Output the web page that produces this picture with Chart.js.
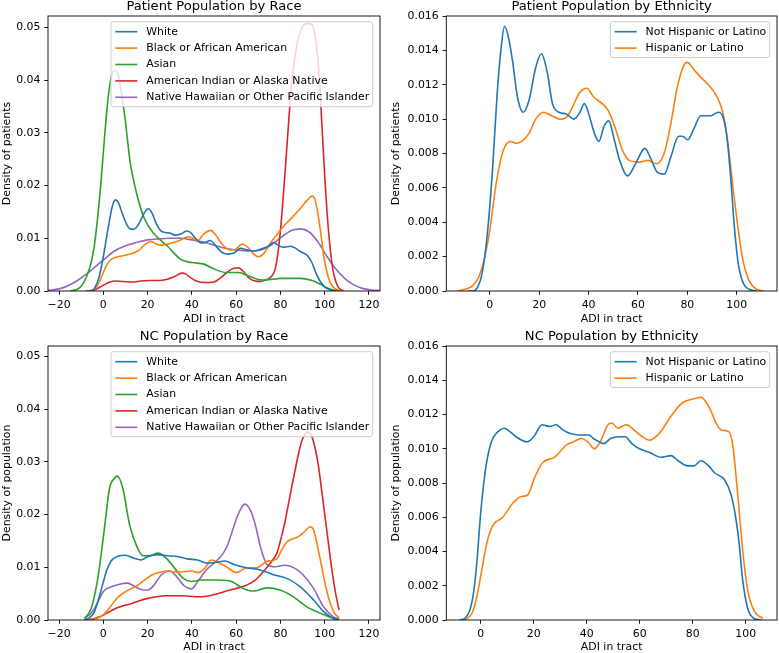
<!DOCTYPE html>
<html>
<head>
<meta charset="utf-8">
<title>ADI density by race and ethnicity</title>
<script src="https://cdn.jsdelivr.net/npm/chart.js@4.4.0/dist/chart.umd.min.js"></script>
<style>
  html, body { margin: 0; padding: 0; background: #ffffff; }
  #fig { position: relative; width: 779px; height: 653px; overflow: hidden; }
  #fig canvas { position: absolute; }
</style>
</head>
<body>
<div id="fig">
  <canvas id="patRace" width="389" height="330" style="left:0;top:0"></canvas>
  <canvas id="patEth" width="390" height="330" style="left:389px;top:0"></canvas>
  <canvas id="ncRace" width="389" height="323" style="left:0;top:330px"></canvas>
  <canvas id="ncEth" width="390" height="323" style="left:389px;top:330px"></canvas>
</div>
<script>
// ==========================================
// DATA (ADI in tract, density)
// ==========================================

const raceLabels = ['White', 'Black or African American', 'Asian',
    'American Indian or Alaska Native', 'Native Hawaiian or Other Pacific Islander'];
const ethLabels = ['Not Hispanic or Latino', 'Hispanic or Latino'];

const raceXTicks = [-20, 0, 20, 40, 60, 80, 100, 120];
const ethXTicks = [0, 20, 40, 60, 80, 100];
const raceYTicks = [0, 0.01, 0.02, 0.03, 0.04, 0.05];
const ethYTicks = [0, 0.002, 0.004, 0.006, 0.008, 0.010, 0.012, 0.014, 0.016];

// Patient population by race
const patWhite = [[-8,0],[-5,0.0001],[-4,0.0005],[-2,0.0025],[0,0.0065],[2,0.0115],[4,0.016],[5.5,0.0173],[7,0.0166],[8.5,0.0148],[10.5,0.0127],[12,0.0118],[13.5,0.0117],[15,0.0121],[16.5,0.0131],[18.5,0.0148],[20.3,0.0156],[22,0.0148],[24,0.0127],[26,0.0114],[28,0.0111],[30,0.011],[32.5,0.0106],[35,0.0108],[37.6,0.0114],[39.5,0.0111],[41.5,0.0101],[44.4,0.0091],[46.5,0.0093],[48.3,0.0096],[50,0.009],[51.5,0.0082],[54,0.0072],[56.5,0.007],[59,0.0072],[62,0.0081],[65,0.0078],[68,0.0076],[71.5,0.008],[74.5,0.0085],[77,0.0092],[79,0.0087],[81,0.0083],[84.5,0.0085],[87,0.0081],[89,0.0075],[92,0.0068],[94,0.0056],[96,0.0035],[98,0.0018],[100,0.0008],[102,0.0003],[105,0]];
const patBlack = [[-6,0],[-5,0.0001],[-3,0.0008],[-1,0.0025],[1,0.0045],[3,0.0058],[5,0.0063],[9,0.0067],[13,0.0071],[16,0.0077],[18.5,0.0087],[21.5,0.0094],[23.5,0.009],[26,0.0087],[30,0.009],[34.5,0.0096],[38.5,0.0103],[40.5,0.01],[42.5,0.0095],[45.3,0.0108],[48.5,0.0115],[50.5,0.0108],[52.8,0.0094],[55,0.0083],[57.5,0.0078],[60,0.008],[62.7,0.0089],[65,0.0084],[67.5,0.0072],[70,0.0065],[72.5,0.0071],[75,0.0088],[78,0.0105],[80.5,0.0118],[84,0.0134],[88,0.0152],[91,0.0167],[93.2,0.0177],[94.5,0.018],[95.7,0.0172],[97,0.0145],[98.5,0.0102],[99.5,0.0068],[101,0.0036],[102.5,0.0016],[104.5,0.0005],[107,0.0001],[109,0]];
const patAsian = [[-15,0],[-12,0.0003],[-10,0.0009],[-7.5,0.0028],[-5.5,0.0054],[-4,0.0088],[-2.5,0.0142],[-1,0.021],[0.5,0.029],[2,0.036],[3.5,0.0405],[5,0.0418],[6.5,0.0413],[8,0.038],[9.7,0.0332],[12,0.0248],[15,0.0186],[18.5,0.0138],[23,0.0108],[29,0.0085],[35,0.006],[40,0.0054],[45.5,0.0051],[50,0.0042],[55.5,0.0035],[61,0.0035],[66,0.0028],[71.5,0.0021],[76,0.0022],[80,0.0024],[89,0.0024],[95,0.0019],[98,0.0013],[101,0.0006],[104,0.0002],[108,0]];
const patAmInd = [[-6,0],[-3,0.0004],[0,0.0011],[3,0.0017],[5,0.0019],[9,0.0018],[13,0.0017],[17,0.0019],[21,0.002],[25,0.002],[28.5,0.0022],[32,0.0027],[35.5,0.0034],[37,0.0033],[39.5,0.0025],[42,0.0019],[46,0.0016],[50,0.0017],[53,0.0025],[56,0.0036],[59,0.0043],[61,0.0044],[63.5,0.0036],[66,0.0024],[68.5,0.0019],[71,0.0018],[73.5,0.0021],[75.3,0.0025],[77.6,0.0041],[79.1,0.0079],[80.6,0.0142],[82.1,0.0225],[83.6,0.0313],[85.1,0.0396],[87.1,0.0459],[89.2,0.0494],[91.9,0.0508],[94.2,0.0506],[95.7,0.0484],[97.2,0.0427],[98.7,0.032],[100.2,0.0206],[101.8,0.0111],[103.7,0.0041],[105.9,0.0009],[108.6,0]];
const patNhpi = [[-25,0.0001],[-20,0.0004],[-16,0.001],[-12,0.0019],[-8,0.0031],[-4,0.0045],[0,0.0059],[5,0.0076],[10,0.0086],[15,0.0092],[20,0.0097],[25,0.0099],[30,0.01],[35,0.01],[40,0.0097],[45,0.0093],[50,0.0087],[55,0.0081],[60,0.0078],[65,0.0076],[70,0.0077],[75,0.0085],[80,0.0101],[85,0.0115],[89,0.0118],[93,0.0112],[97,0.0093],[101,0.0066],[105,0.0042],[109,0.0024],[113,0.0012],[117,0.0005],[121,0.0002],[125,0.0001]];

// Patient population by ethnicity
const patNotHisp = [[-9,0],[-7,0],[-5,0.0002],[-3,0.0011],[-1,0.0033],[1,0.0068],[3,0.0115],[4.5,0.014],[6,0.0154],[7.5,0.0148],[9.2,0.0134],[11.2,0.0113],[13.5,0.0104],[15.9,0.0111],[18.6,0.013],[20.9,0.0138],[23.3,0.0127],[25.4,0.0109],[28,0.0104],[31,0.0103],[34,0.01],[36.5,0.0104],[38.3,0.0109],[40.3,0.0102],[42.3,0.0092],[44.2,0.0087],[46.3,0.0096],[48.2,0.0099],[50.4,0.0088],[52.6,0.0076],[55.8,0.0067],[59,0.0074],[62.8,0.0083],[65.2,0.0077],[67.9,0.0069],[70.7,0.0068],[73.3,0.0078],[76.5,0.009],[78,0.009],[80.2,0.0088],[82.5,0.0094],[85.5,0.0102],[89.6,0.0102],[92.5,0.0104],[94.5,0.0101],[96,0.009],[97.5,0.0067],[99,0.0038],[100.5,0.0017],[102.5,0.0005],[105,0.0001],[108,0]];
const patHisp = [[-13,0],[-10,0.0001],[-7,0.0003],[-4.5,0.0008],[-2,0.002],[0,0.0035],[2,0.0057],[4.5,0.0077],[6.5,0.0085],[8.5,0.0087],[10.5,0.0086],[13,0.0087],[16,0.0092],[18.6,0.01],[21.8,0.0104],[25,0.0102],[28.5,0.01],[31,0.0101],[33.5,0.0107],[36.2,0.0115],[39.3,0.0118],[42,0.0113],[45.5,0.0109],[48,0.0105],[51,0.0094],[53.7,0.0082],[56.5,0.0076],[60.5,0.0075],[64,0.0076],[67.5,0.0074],[70.6,0.008],[73,0.0095],[76,0.0119],[78.5,0.0131],[80,0.0133],[82.5,0.0129],[85,0.0125],[88.5,0.012],[92,0.0113],[94.5,0.0103],[96.5,0.0085],[98.5,0.006],[100.5,0.0037],[102.5,0.0018],[105,0.0006],[108,0.0001],[111,0]];

// NC population by race
const ncWhite = [[-8.5,0],[-6,0.0005],[-4,0.0016],[-2,0.0042],[0,0.0072],[1.5,0.0094],[3.5,0.0112],[6.5,0.0121],[10,0.0123],[14,0.0117],[17,0.0114],[20,0.012],[24.5,0.0124],[29,0.0122],[34,0.012],[38,0.0116],[42.5,0.0114],[47,0.0108],[50.5,0.0109],[55,0.0112],[58.7,0.0106],[64.7,0.0099],[70.8,0.0095],[76.8,0.0086],[82.9,0.0079],[89,0.0063],[95,0.0038],[99.5,0.0016],[104,0.0003],[106.5,0.0001]];
const ncBlack = [[-8.5,0],[-5.5,0.0001],[-3,0.0003],[-1,0.0007],[1,0.0014],[3,0.0024],[6.5,0.0043],[11,0.0056],[15.5,0.0066],[18.7,0.0076],[21.7,0.0085],[26,0.0091],[29.3,0.0093],[32.3,0.0091],[36.8,0.0092],[39.8,0.0093],[42.8,0.009],[45.8,0.0098],[48.9,0.0114],[50.5,0.0112],[55.7,0.0101],[60.2,0.009],[64.7,0.0099],[69.3,0.0099],[73.8,0.0111],[78.4,0.0116],[80.5,0.0132],[82.9,0.0148],[88,0.0158],[91,0.0168],[93.4,0.0177],[95,0.0171],[97.9,0.0117],[101,0.0054],[104,0.0016],[106.5,0.0004]];
const ncAsian = [[-8.5,0.0003],[-5.5,0.0022],[-2.5,0.0079],[0.5,0.0174],[2.8,0.025],[5,0.0269],[6.3,0.0273],[8.8,0.025],[11.9,0.018],[14.9,0.0142],[17.9,0.0122],[21.7,0.0123],[24.7,0.0127],[28.5,0.0117],[32.3,0.0098],[36.1,0.0079],[39.8,0.0073],[44.3,0.0076],[50,0.0076],[57.2,0.0074],[63.2,0.006],[67.8,0.0055],[73.8,0.0061],[79.8,0.0057],[85.9,0.0044],[91.9,0.0025],[98,0.0013],[104,0.0003],[106.5,0.0001]];
const ncAmInd = [[-8.5,0],[-6.5,0.0001],[-4,0.0003],[-1,0.0007],[2,0.0014],[5,0.0021],[9,0.0027],[12.6,0.0031],[16,0.0036],[20.2,0.0041],[24,0.0044],[27.7,0.0046],[32,0.0046],[35.3,0.0046],[39,0.0045],[42.8,0.0044],[46.5,0.0045],[50,0.0048],[53.5,0.0052],[57.2,0.0057],[61,0.0061],[64.7,0.0066],[68.5,0.0075],[72.3,0.0092],[75.3,0.0107],[78.4,0.0127],[80.3,0.0155],[82.1,0.0187],[84,0.0228],[85.9,0.0269],[87.8,0.0308],[89.6,0.0339],[91.2,0.0353],[92.7,0.0356],[94.2,0.0348],[95.7,0.0326],[97.2,0.0292],[98.7,0.0244],[100.3,0.0192],[101.8,0.0142],[103.3,0.0094],[104.8,0.0054],[106.5,0.0019]];
const ncNhpi = [[-8.5,0.0003],[-6,0.0011],[-4,0.0022],[-2,0.0038],[0,0.0054],[3.6,0.0063],[7.3,0.0068],[11,0.007],[14,0.0064],[17,0.0058],[20.2,0.0057],[23,0.0067],[26,0.0085],[30,0.0093],[33,0.0083],[36.5,0.0065],[39.8,0.0059],[43,0.0075],[46.5,0.0095],[50,0.0108],[53,0.012],[55.7,0.0138],[58,0.0165],[60.2,0.0193],[62.2,0.0212],[64,0.022],[65.5,0.0215],[67,0.0203],[69,0.0175],[70.8,0.0142],[72.5,0.0118],[74,0.0105],[77.6,0.0101],[82,0.0104],[86.6,0.0098],[90.4,0.0085],[95,0.006],[99.5,0.0025],[104,0.0006],[106.5,0.0002]];

// NC population by ethnicity
const ncNotHisp = [[-8,0],[-6,0.0001],[-4.3,0.0005],[-3,0.0013],[-1.5,0.0033],[0,0.0063],[2,0.009],[4,0.0104],[6.5,0.011],[8.9,0.0112],[11,0.011],[13.3,0.0107],[15.5,0.0105],[17.5,0.0104],[20,0.0107],[23.1,0.0114],[26,0.0113],[28.4,0.0114],[31,0.0111],[33.5,0.0109],[37.2,0.0108],[40.8,0.0108],[42.5,0.0106],[44.8,0.0104],[46.5,0.0103],[49,0.0106],[52,0.0107],[54.5,0.0107],[57,0.0103],[59.9,0.01],[63.5,0.0098],[68,0.0095],[71.8,0.0096],[74.5,0.0093],[78.1,0.009],[80.5,0.009],[83.1,0.0093],[86,0.009],[88.2,0.0086],[91.9,0.0082],[94.5,0.0073],[96.2,0.006],[97.5,0.0045],[98.8,0.0024],[100.7,0.0007],[103,0.0001],[106,0]];
const ncHisp = [[-7,0],[-5,0.0001],[-3,0.0005],[-1.3,0.0015],[0.5,0.003],[2.3,0.0045],[4.5,0.0055],[8.3,0.006],[12,0.0068],[15,0.0072],[17.7,0.0073],[20.3,0.0083],[23.4,0.0092],[27.8,0.0095],[32.2,0.0102],[35,0.0104],[37.9,0.0106],[40.4,0.0104],[42.9,0.01],[45.4,0.0105],[48,0.0114],[49.5,0.0115],[51.7,0.0112],[54.8,0.0114],[58.6,0.011],[61,0.0107],[63.6,0.0105],[67.4,0.0109],[71.8,0.0119],[76.2,0.0127],[80,0.0129],[83.1,0.013],[86.3,0.0124],[88.8,0.0115],[90.7,0.0111],[93.6,0.011],[95.1,0.0102],[97,0.0073],[98.9,0.004],[100.8,0.0017],[103.3,0.0005],[106.4,0.0001]];

// ==========================================
// HELPERS
// ==========================================

const palette = ['#1f77b4', '#ff7f0e', '#2ca02c', '#d62728', '#9467bd'];
const FONT = 'DejaVu Sans';
const TEXT = '#000000';
const FS = 10.9;   // tick / label / legend size

Chart.defaults.font.family = FONT;
Chart.defaults.font.size = FS;
Chart.defaults.color = TEXT;

const toPoints = pairs => pairs.map(([x, y]) => ({ x, y }));
const signed = v => (v < 0 ? '\u2212' + Math.abs(v) : String(v));

// axes box (all four spines) plus a matplotlib-like legend in the upper right
const frameLegend = {
    id: 'frameLegend',
    afterDatasetsDraw(chart) {
        const { ctx, chartArea: a } = chart;
        ctx.save();
        ctx.strokeStyle = '#000';
        ctx.lineWidth = 0.9;
        ctx.strokeRect(a.left, a.top, a.right - a.left, a.bottom - a.top);

        const sets = chart.data.datasets;
        ctx.font = FS + 'px "' + FONT + '"';
        const textW = Math.max(...sets.map(d => ctx.measureText(d.label).width));
        const rowH = 16.4;
        const w = 4.3 + 22 + 9 + textW + 3.5;
        const h = 10 + rowH * (sets.length - 1) + 9.4;
        const right = a.right - 7.3;
        const left = right - w;
        const top = a.top + 5.7;

        ctx.beginPath();
        ctx.roundRect(left, top, w, h, 2.5);
        ctx.fillStyle = 'rgba(255,255,255,0.8)';
        ctx.fill();
        ctx.strokeStyle = '#cccccc';
        ctx.lineWidth = 1;
        ctx.stroke();

        sets.forEach((d, i) => {
            const y = top + 10 + i * rowH;
            ctx.beginPath();
            ctx.moveTo(left + 4.3, y);
            ctx.lineTo(left + 26.3, y);
            ctx.strokeStyle = d.borderColor;
            ctx.lineWidth = 1.6;
            ctx.stroke();
            ctx.fillStyle = TEXT;
            ctx.textBaseline = 'middle';
            ctx.textAlign = 'left';
            ctx.fillText(d.label, left + 35.3, y);
        });
        ctx.restore();
    }
};

const makeChart = (id, cfg) => {
    const ctx = document.getElementById(id).getContext('2d');
    return new Chart(ctx, {
        type: 'line',
        data: {
            datasets: cfg.series.map((s, i) => ({
                label: cfg.labels[i],
                data: toPoints(s),
                borderColor: palette[i],
                borderWidth: 1.6,
                pointRadius: 0,
                fill: false,
                cubicInterpolationMode: 'monotone'
            }))
        },
        options: {
            responsive: false,
            devicePixelRatio: 1,
            animation: false,
            layout: { padding: { left: 0, right: cfg.padRight, top: 0, bottom: 0 } },
            plugins: {
                legend: { display: false },
                tooltip: { enabled: false },
                title: {
                    display: true,
                    text: cfg.title,
                    fullSize: false,
                    color: TEXT,
                    font: { size: 13.1, weight: 'normal', lineHeight: 1 },
                    padding: { top: 0, bottom: 2.9 }
                }
            },
            scales: {
                x: {
                    type: 'linear',
                    min: cfg.xMin,
                    max: cfg.xMax,
                    afterBuildTicks: s => { s.ticks = cfg.xTicks.map(v => ({ value: v })); },
                    afterFit: s => { s.height = cfg.xAxisHeight; },
                    ticks: { callback: v => signed(v), autoSkip: false, maxRotation: 0, padding: 3.7, color: TEXT },
                    grid: { drawOnChartArea: false, tickLength: 3.8, color: '#000', lineWidth: 0.9 },
                    border: { display: false },
                    title: { display: true, text: 'ADI in tract', color: TEXT, font: { lineHeight: 1 }, padding: { top: 0, bottom: cfg.xTitlePad } }
                },
                y: {
                    type: 'linear',
                    min: 0,
                    max: cfg.yMax,
                    afterBuildTicks: s => { s.ticks = cfg.yTicks.map(v => ({ value: v })); },
                    afterFit: s => { s.width = cfg.yAxisWidth; },
                    ticks: { callback: v => v.toFixed(cfg.yDigits), autoSkip: false, padding: 3.8, color: TEXT },
                    grid: { drawOnChartArea: false, tickLength: 3.8, color: '#000', lineWidth: 0.9 },
                    border: { display: false },
                    title: { display: true, text: cfg.yTitle, color: TEXT, font: { lineHeight: 1 }, padding: { top: 1.5, bottom: 0 } }
                }
            }
        },
        plugins: [frameLegend]
    });
};

// ==========================================
// CHARTS
// ==========================================

makeChart('patRace', {
    title: 'Patient Population by Race', yTitle: 'Density of patients',
    labels: raceLabels, series: [patWhite, patBlack, patAsian, patAmInd, patNhpi],
    xMin: -25, xMax: 125, yMax: 0.0522, xTicks: raceXTicks, yTicks: raceYTicks, yDigits: 2,
    yAxisWidth: 48, xAxisHeight: 39, padRight: 9, xTitlePad: 5.2
});

makeChart('patEth', {
    title: 'Patient Population by Ethnicity', yTitle: 'Density of patients',
    labels: ethLabels, series: [patNotHisp, patHisp],
    xMin: -17.6, xMax: 116.3, yMax: 0.016, xTicks: ethXTicks, yTicks: ethYTicks, yDigits: 3,
    yAxisWidth: 57.3, xAxisHeight: 39, padRight: 2, xTitlePad: 5.2
});

makeChart('ncRace', {
    title: 'NC Population by Race', yTitle: 'Density of population',
    labels: raceLabels, series: [ncWhite, ncBlack, ncAsian, ncAmInd, ncNhpi],
    xMin: -25, xMax: 125, yMax: 0.052, xTicks: raceXTicks, yTicks: raceYTicks, yDigits: 2,
    yAxisWidth: 48, xAxisHeight: 33, padRight: 9, xTitlePad: 0
});

makeChart('ncEth', {
    title: 'NC Population by Ethnicity', yTitle: 'Density of population',
    labels: ethLabels, series: [ncNotHisp, ncHisp],
    xMin: -13, xMax: 111.8, yMax: 0.016, xTicks: ethXTicks, yTicks: ethYTicks, yDigits: 3,
    yAxisWidth: 57.3, xAxisHeight: 33, padRight: 2, xTitlePad: 0
});
</script>
</body>
</html>
